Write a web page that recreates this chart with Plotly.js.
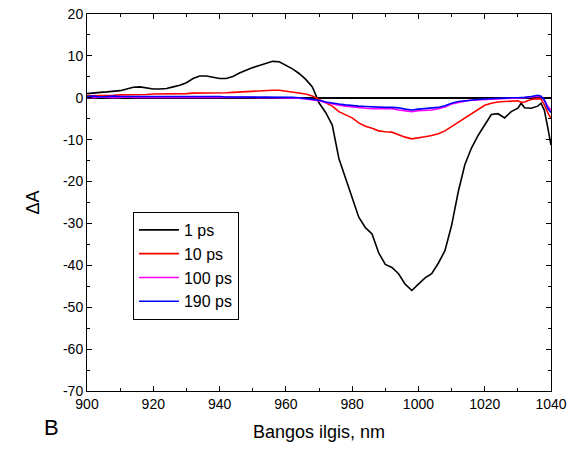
<!DOCTYPE html>
<html>
<head>
<meta charset="utf-8">
<script src="https://cdn.plot.ly/plotly-3.0.1.min.js"></script>
<style>
html,body{margin:0;padding:0;background:#fff;}
#chart{width:578px;height:450px;}
</style>
</head>
<body>
<div id="chart"></div>
<script>
const wavelength = [900,902,904,906,908,910,912,914,916,918,920,922,924,926,928,930,932,934,936,938,940,942,944,946,948,950,952,954,956,958,960,962,964,966,968,970,972,974,976,978,980,982,984,986,988,990,992,994,996,998,1000,1002,1004,1006,1008,1010,1012,1014,1016,1018,1020,1022,1024,1026,1028,1030,1031,1032,1034,1036,1037,1038,1039,1040];

const ps1 = [1.0,1.2,1.3,1.4,1.5,1.7,2.1,2.5,2.6,2.3,2.1,2.1,2.2,2.6,3.0,3.6,4.6,5.2,5.2,4.9,4.6,4.6,5.1,5.9,6.6,7.2,7.7,8.2,8.7,8.6,7.8,6.9,5.8,4.4,2.6,-1.2,-3.5,-6.5,-14.5,-19.0,-23.5,-28.5,-31.0,-32.5,-37.0,-39.8,-40.5,-42.0,-44.5,-46.0,-44.5,-43.0,-42.0,-39.5,-36.5,-30.5,-22.5,-16.0,-12.0,-9.0,-6.5,-4.0,-3.8,-4.8,-3.3,-2.5,-1.3,-2.4,-2.5,-2.0,-1.3,-3.0,-7.0,-11.3];

const ps10 = [0.5,0.5,0.5,0.6,0.6,0.7,0.7,0.8,0.8,0.8,0.9,0.9,0.9,1.0,1.0,1.0,1.1,1.1,1.1,1.1,1.2,1.2,1.3,1.4,1.5,1.6,1.7,1.8,1.8,1.8,1.6,1.4,1.2,0.9,0.4,-0.4,-1.2,-2.0,-3.3,-4.0,-4.8,-6.0,-6.8,-7.3,-7.9,-8.1,-8.2,-8.8,-9.4,-9.8,-9.6,-9.3,-9.0,-8.6,-7.9,-6.9,-5.9,-4.8,-3.8,-2.8,-1.8,-1.3,-1.0,-0.9,-0.8,-0.7,-1.1,-1.0,-0.4,-0.2,-0.3,-1.7,-3.5,-5.0];

const ps100 = [0.1,0.0,0.2,0.1,0.0,0.1,0.2,0.1,0.1,0.2,0.1,0.1,0.2,0.1,0.1,0.2,0.1,0.1,0.1,0.2,0.1,0.1,0.1,0.1,0.1,0.1,0.0,0.1,0.0,0.0,0.0,-0.1,-0.1,-0.3,-0.5,-0.7,-1.1,-1.5,-1.8,-2.0,-2.2,-2.4,-2.5,-2.6,-2.6,-2.7,-2.6,-2.9,-3.1,-3.3,-3.1,-3.0,-2.9,-2.6,-2.2,-1.5,-1.1,-0.8,-0.6,-0.5,-0.4,-0.3,-0.2,-0.2,-0.1,-0.1,-0.1,0.0,0.2,0.4,0.3,-0.6,-2.0,-3.0];

const ps190 = [0.3,0.4,0.2,0.3,0.4,0.3,0.3,0.4,0.3,0.3,0.3,0.4,0.3,0.3,0.3,0.3,0.3,0.3,0.3,0.3,0.3,0.2,0.2,0.2,0.2,0.2,0.2,0.2,0.2,0.2,0.2,0.1,0.0,-0.2,-0.4,-0.6,-1.0,-1.3,-1.5,-1.7,-1.9,-2.0,-2.1,-2.2,-2.2,-2.3,-2.3,-2.4,-2.7,-2.9,-2.7,-2.6,-2.5,-2.3,-1.9,-1.3,-0.9,-0.7,-0.5,-0.4,-0.3,-0.2,-0.1,-0.1,0.0,0.0,0.0,0.1,0.3,0.6,0.4,-0.5,-2.5,-3.5];

const seriesNames = ['1 ps','10 ps','100 ps','190 ps'];
const seriesColors = ['#000000','#ff0000','#ff00ff','#0000ff'];
const seriesData = [ps1, ps10, ps100, ps190];

const yTickVals = [20,10,0,-10,-20,-30,-40,-50,-60,-70];
const yTickText = ['20','10','0','-10','-20','-30','-40','-50','-60','-70'];

const traces = seriesData.map((y, i) => ({
  x: wavelength, y: y, type: 'scatter', mode: 'lines', name: seriesNames[i],
  line: {color: seriesColors[i], width: 1.6}
}));

const font = 'Liberation Sans, Arial, sans-serif';
const layout = {
  width: 578, height: 450,
  margin: {l: 87, r: 27, t: 14, b: 59},
  paper_bgcolor: '#fff', plot_bgcolor: '#fff',
  showlegend: true,
  font: {family: font, size: 14, color: '#000'},
  xaxis: {
    range: [900, 1040], dtick: 20, tick0: 900,
    showline: true, linecolor: '#000', linewidth: 1, mirror: 'ticks',
    ticks: 'inside', ticklen: 5, tickcolor: '#000',
    minor: {dtick: 10, ticks: 'inside', ticklen: 3, tickcolor: '#000'},
    showgrid: false, zeroline: false,
    tickfont: {family: font, size: 14},
    title: {text: 'Bangos ilgis, nm', font: {family: font, size: 18}, standoff: 14}
  },
  yaxis: {
    range: [-70, 20], tickmode: 'array', tickvals: yTickVals, ticktext: yTickText,
    showline: true, linecolor: '#000', linewidth: 1, mirror: 'ticks',
    ticks: 'inside', ticklen: 5, tickcolor: '#000',
    minor: {dtick: 5, ticks: 'inside', ticklen: 3, tickcolor: '#000'},
    showgrid: false, zeroline: true, zerolinecolor: '#000', zerolinewidth: 1.5,
    tickfont: {family: font, size: 14},
    title: {text: 'ΔA', font: {family: font, size: 18}, standoff: 18}
  },
  legend: {
    x: 0.099, y: 0.475, xanchor: 'left', yanchor: 'top',
    bgcolor: '#fff', bordercolor: '#000', borderwidth: 1,
    font: {family: font, size: 16}, itemwidth: 40, tracegroupgap: 0
  },
  annotations: [{
    text: 'B', xref: 'paper', yref: 'paper', x: -0.076, y: -0.097,
    xanchor: 'center', yanchor: 'middle', showarrow: false,
    font: {family: font, size: 22}
  }]
};

Plotly.newPlot('chart', traces, layout, {displayModeBar: false, staticPlot: true});
</script>
</body>
</html>
